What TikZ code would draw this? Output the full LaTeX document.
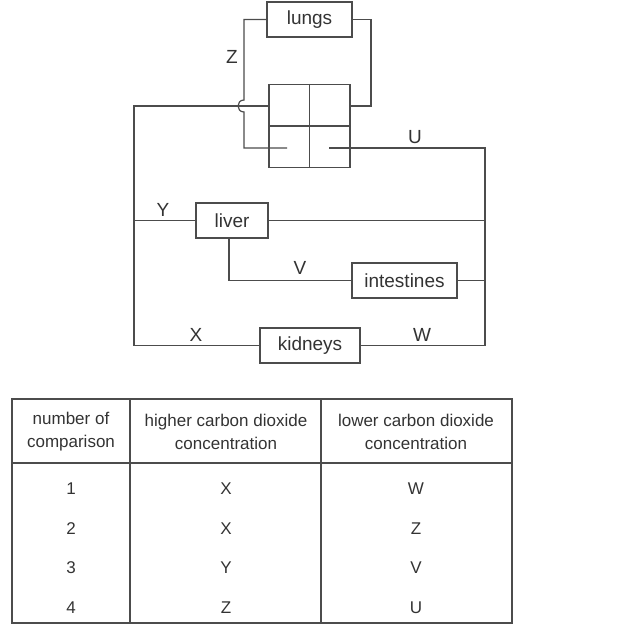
\documentclass[tikz,border=0pt]{standalone}
\usepackage{fontspec}
\setmainfont{Liberation Sans}
\definecolor{linec}{gray}{0.3}
\definecolor{textc}{gray}{0.2}
\begin{document}
\begin{tikzpicture}[x=1pt,y=-1pt,
  organ/.style={draw=linec,line width=1.2pt,inner sep=0pt,minimum height=35pt,text=textc,font=\fontsize{19}{22}\selectfont},
  vessel/.style={draw=linec,line width=1.2pt},
  lab/.style={text=textc,font=\fontsize{19}{22}\selectfont,inner sep=0pt},
  cell/.style={text=textc,font=\fontsize{17}{23}\selectfont,inner sep=0pt,align=center},
  grid/.style={draw=linec,line width=1.2pt}]
\useasboundingbox (0,0) rectangle (628,637);
% organs
\node[organ,minimum width=85pt] (lungs) at (309.5,19.5) {lungs};
\node[draw=linec,line width=1.2pt,inner sep=0pt,minimum width=81pt,minimum height=83pt] (heart) at (309.5,126) {};
\node[organ,minimum width=72pt] (liver) at (232,220.5) {liver};
\node[organ,minimum width=105pt] (intestines) at (404.5,280.5) {intestines};
\node[organ,minimum width=100pt] (kidneys) at (310,345.5) {kidneys};
% heart chambers
\draw[vessel] (heart.north) -- (heart.south);
\draw[vessel] (heart.west) -- (heart.east);
% coordinates
\coordinate (zin) at (287,148);
\coordinate (uout) at (329,148);
\coordinate (top) at (0,106);
\coordinate (hopa) at (244,100);
\coordinate (hopb) at (244,112);
\coordinate (lc) at (134,106);
\coordinate (rc) at (485,148);
% pulmonary circuit
\draw[vessel] (lungs.west) -| (hopa) .. controls (236,100) and (236,112) .. (hopb) |- (zin);
\draw[vessel] (lungs.east) -- (371,19.5) |- (heart.east |- top);
% systemic circuit
\draw[vessel] (heart.west |- top) -- (lc) |- (kidneys.west);
\draw[vessel] (kidneys.east) -| (rc) -- (uout);
\draw[vessel] (lc |- liver.west) -- (liver.west);
\draw[vessel] (liver.east) -- (rc |- liver.east);
\draw[vessel] ([xshift=-3pt]liver.south) |- (intestines.west);
\draw[vessel] (intestines.east) -- (rc |- intestines.east);
% labels
\node[lab] (lz) at (232,57) {Z};
\node[lab] (lu) at (415,137) {U};
\node[lab] (ly) at (163,210) {Y};
\node[lab] (lv) at (300,268) {V};
\node[lab] (lx) at (196,335) {X};
\node[lab] (lw) at (422,335) {W};
% table
\draw[grid] (12,399) rectangle (512,623);
\draw[grid] (130,399) -- (130,623);
\draw[grid] (321,399) -- (321,623);
\draw[grid] (12,463) -- (512,463);
\node[cell] (h1) at (71,431.5) {number of\\comparison};
\node[cell] (h2) at (226,431.5) {higher carbon dioxide\\concentration};
\node[cell] (h3) at (416,431.5) {lower carbon dioxide\\concentration};
\node[cell] (r1a) at (71,489) {1};
\node[cell] (r1b) at (226,489) {X};
\node[cell] (r1c) at (416,489) {W};
\node[cell] (r2a) at (71,529) {2};
\node[cell] (r2b) at (226,529) {X};
\node[cell] (r2c) at (416,529) {Z};
\node[cell] (r3a) at (71,568) {3};
\node[cell] (r3b) at (226,568) {Y};
\node[cell] (r3c) at (416,568) {V};
\node[cell] (r4a) at (71,608) {4};
\node[cell] (r4b) at (226,608) {Z};
\node[cell] (r4c) at (416,608) {U};
\end{tikzpicture}
\end{document}
